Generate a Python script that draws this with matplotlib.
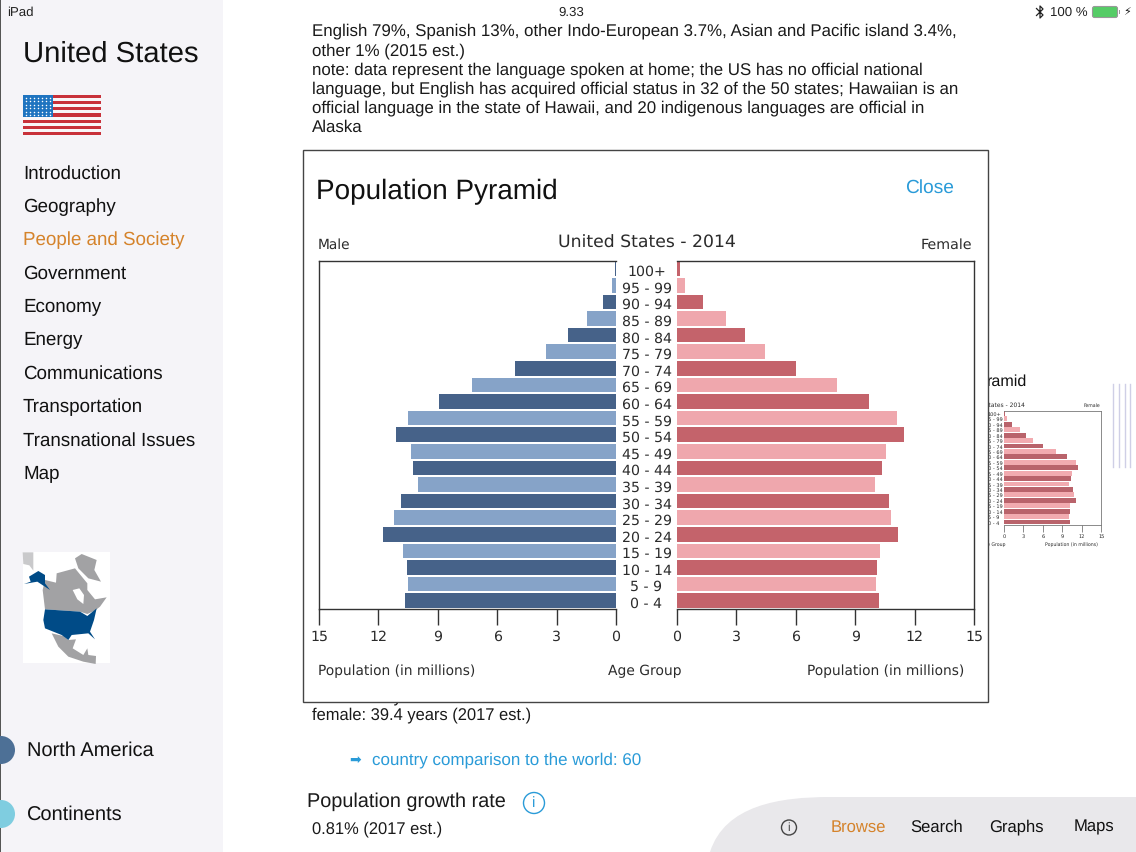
#!/usr/bin/env python3
import matplotlib
matplotlib.use('Agg')
import matplotlib.pyplot as plt
import matplotlib.patches as mpatches
from matplotlib.path import Path
from matplotlib.transforms import blended_transform_factory
import numpy as np

age_groups = ["0 - 4", "5 - 9", "10 - 14", "15 - 19", "20 - 24", "25 - 29", "30 - 34",
              "35 - 39", "40 - 44", "45 - 49", "50 - 54", "55 - 59", "60 - 64", "65 - 69",
              "70 - 74", "75 - 79", "80 - 84", "85 - 89", "90 - 94", "95 - 99", "100+"]
male = [10.64, 10.49, 10.54, 10.77, 11.78, 11.21, 10.87, 9.98, 10.27, 10.37, 11.10,
        10.49, 8.92, 7.29, 5.12, 3.54, 2.42, 1.48, 0.64, 0.19, 0.05]
female = [10.20, 10.03, 10.10, 10.25, 11.16, 10.82, 10.70, 9.98, 10.37, 10.54, 11.48,
          11.09, 9.70, 8.06, 6.00, 4.43, 3.43, 2.46, 1.30, 0.40, 0.13]
x_ticks = [0, 3, 6, 9, 12, 15]

nav_items = ["Introduction", "Geography", "People and Society", "Government", "Economy",
             "Energy", "Communications", "Transportation", "Transnational Issues", "Map"]
body_lines = ["English 79%, Spanish 13%, other Indo-European 3.7%, Asian and Pacific island 3.4%,",
              "other 1% (2015 est.)",
              "note: data represent the language spoken at home; the US has no official national",
              "language, but English has acquired official status in 32 of the 50 states; Hawaiian is an",
              "official language in the state of Hawaii, and 20 indigenous languages are official in",
              "Alaska"]

C_M_DARK = "#466289"
C_M_LIGHT = "#86A3C8"
C_F_DARK = "#C4636B"
C_F_LIGHT = "#EFA7AD"
C_TEXT = "#2B2B2B"
C_ORANGE = "#D5832B"
C_LINK = "#2A9BD8"
UI = "Liberation Sans"
CHART = "DejaVu Sans"
W, H = 1136, 852

plt.rcParams['font.family'] = ['DejaVu Sans']
plt.rcParams['text.hinting'] = 'no_hinting'
fig = plt.figure(figsize=(W / 100, H / 100), dpi=100, facecolor="white")


def px_axes(left, top, right, bottom, **kw):
    return fig.add_axes([left / W, 1 - bottom / H, (right - left) / W, (bottom - top) / H], **kw)


def ui_text(ax, x, y, s, size, color="#111111", ha="left", family=UI):
    ax.text(x, y + 1.5, s, fontsize=size, color=color, ha=ha, va="center", family=family)


def info_icon(ax, x, y, r, color, size):
    ax.add_patch(mpatches.Circle((x, y), r, fc="none", ec=color, lw=1))
    ax.text(x, y + 0.5, "i", fontsize=size, color=color, ha="center", va="center", family=UI)


bg = fig.add_axes([0, 0, 1, 1], zorder=0)
bg.set_xlim(0, W)
bg.set_ylim(H, 0)
bg.axis("off")

# sidebar
bg.add_patch(mpatches.Rectangle((0, 0), 223, H, color="#F5F4F8", lw=0))
bg.add_patch(mpatches.Rectangle((0, 0), 1.2, H, color="#555555", lw=0))
ui_text(bg, 7, 11, "iPad", 9.5, "#222222")
ui_text(bg, 571, 11, "9.33", 9.5, "#222222", ha="center")
# bluetooth sign
bg.plot([1036.5, 1043, 1040, 1040, 1043, 1036.5], [8.5, 15, 18, 6, 9, 15.5], color="#222222", lw=0.9)
ui_text(bg, 1050, 11, "100 %", 9.5, "#222222")
bg.add_patch(mpatches.FancyBboxPatch((1093, 7), 24, 10, boxstyle="round,pad=0.5,rounding_size=2",
                                     fc="#55CC66", ec="#999999", lw=0.8))
bg.add_patch(mpatches.Rectangle((1119, 10), 1.2, 4, color="#999999", lw=0))
ui_text(bg, 1127, 10.5, "\u26A1", 8, "#111111", ha="center", family=CHART)
ui_text(bg, 23, 53, "United States", 21.1, "#111111")

# flag
for i in range(13):
    stripe_top = 95 + i * 40 / 13
    stripe_color = "#C8313A" if i % 2 == 0 else "#F8F6F8"
    bg.add_patch(mpatches.Rectangle((23, stripe_top), 78, 40 / 13, color=stripe_color, lw=0))
bg.add_patch(mpatches.Rectangle((23, 95), 29.5, 21.5, color="#1F74C0", lw=0))
sx, sy = np.meshgrid(np.arange(25.5, 52, 4), np.arange(97.5, 116, 3.6))
bg.scatter(sx.ravel(), sy.ravel(), s=1.2, c="white", lw=0, zorder=3)

for i, item in enumerate(nav_items):
    ui_text(bg, 23, 172.5 + i * 33.3, item, 13.5, C_ORANGE if i == 2 else "#111111")

# small map
bg.add_patch(mpatches.Rectangle((23, 552), 87, 111, color="white", lw=0))


def map_poly(points, color):
    pts = [(p[0] / 3, 540 + p[1] / 3) for p in points]
    bg.add_patch(mpatches.Polygon(pts, closed=True, fc=color, ec="none", zorder=2))


map_poly([(68, 37), (100, 37), (100, 92), (88, 76), (70, 72)], "#C9C9CB")
map_poly([(225, 55), (245, 42), (290, 60), (283, 90), (303, 125), (265, 115), (235, 85)], "#A2A2A4")
map_poly([(135, 120), (168, 128), (170, 100), (225, 85), (262, 130), (262, 150), (285, 178), (320, 172),
          (300, 200), (285, 212), (262, 222), (240, 215), (135, 208), (128, 150)], "#A2A2A4")
map_poly([(218, 150), (238, 145), (252, 165), (250, 192), (232, 178)], "white")
map_poly([(155, 280), (190, 288), (205, 300), (228, 298), (218, 325), (250, 345), (262, 325), (265, 345),
          (288, 348), (287, 372), (250, 365), (205, 350), (175, 320)], "#A2A2A4")
map_poly([(87, 110), (115, 93), (135, 105), (135, 130), (150, 150), (112, 125), (72, 132), (92, 125)], "#004B87")
map_poly([(135, 208), (240, 215), (262, 228), (290, 205), (282, 240), (270, 275), (285, 298), (265, 280),
          (215, 285), (205, 300), (185, 285), (135, 265), (130, 240)], "#004B87")

bg.add_patch(mpatches.Circle((1, 750), 14, color="#4D7096", lw=0))
bg.add_patch(mpatches.Circle((1, 814), 14, color="#7FCDE0", lw=0))
ui_text(bg, 27, 749, "North America", 14.4)
ui_text(bg, 27, 813, "Continents", 14.4)

# page text behind the dialog
for y, line in zip([30, 50, 69, 88, 107, 126], body_lines):
    ui_text(bg, 312, y, line, 12.15, "#1A1A1A")
ui_text(bg, 312, 696, "male: 36.8 years", 11.9, "#1A1A1A")
ui_text(bg, 312, 714, "female: 39.4 years (2017 est.)", 11.9, "#1A1A1A")
ui_text(bg, 349, 758.5, "\u27A1", 10, C_LINK, family=CHART)
ui_text(bg, 372, 758.5, "country comparison to the world: 60", 12.25, C_LINK)
ui_text(bg, 307, 800, "Population growth rate", 14.3, "#1A1A1A")
info_icon(bg, 534, 803, 10.5, C_LINK, 11)
ui_text(bg, 312, 828, "0.81% (2017 est.)", 11.9, "#1A1A1A")
ui_text(bg, 1027, 380, "ramid", 11.6, "#111111", ha="right")

# tab bar
tab_path = Path([(710, 852), (725, 805), (780, 797), (830, 797), (1136, 797), (1136, 852), (710, 852)],
                [Path.MOVETO, Path.CURVE4, Path.CURVE4, Path.CURVE4, Path.LINETO, Path.LINETO, Path.CLOSEPOLY])
bg.add_patch(mpatches.PathPatch(tab_path, fc="#E9E8EB", ec="none"))
info_icon(bg, 789, 827.5, 7.5, "#444444", 8.5)
ui_text(bg, 858, 826, "Browse", 12, C_ORANGE, ha="center")
ui_text(bg, 937, 826, "Search", 12, "#111111", ha="center")
ui_text(bg, 1016, 826, "Graphs", 12, "#111111", ha="center")
ui_text(bg, 1094, 826, "Maps", 12, "#111111", ha="center")
for sx_ in [1113, 1119, 1125, 1130]:
    bg.plot([sx_, sx_], [384, 467], color="#CFCFE6", lw=1)

ypos = np.arange(len(age_groups))


def bar_colors(dark, light):
    return [dark if i % 2 == 0 else light for i in range(len(age_groups))]


def style_axes(ax, hide, tick_size, tick_len, pad, lw, edge="#333333"):
    ax.set_ylim(-0.5, 20.5)
    ax.set_yticks([])
    ax.set_xticks(x_ticks)
    ax.tick_params(axis="x", labelsize=tick_size, length=tick_len, pad=pad, width=lw,
                   color=edge, labelcolor=C_TEXT)
    ax.spines[hide].set_visible(False)
    for name in ["top", "bottom", "left", "right"]:
        ax.spines[name].set_linewidth(lw)
        ax.spines[name].set_color(edge)


# thumbnail of the pyramid on the page behind
thumb = px_axes(1004, 410.7, 1101.3, 524.7, zorder=1)
thumb.barh(ypos, female, height=0.88, color=bar_colors("#B9636B", "#F2ABB0"))
thumb.set_xlim(0, 15)
style_axes(thumb, "left", 3.6, 5, 1.5, 0.6, edge="#777777")
tt = blended_transform_factory(bg.transData, thumb.transData)
for y, label in zip(ypos, age_groups):
    thumb.text(994, y - 0.2, label, transform=tt, fontsize=3.6, ha="center", va="center",
               color=C_TEXT, clip_on=False)
tb = blended_transform_factory(bg.transData, bg.transData)
thumb.text(994, 405, "United States - 2014", transform=tb, fontsize=4.3, ha="center", va="center", color=C_TEXT)
thumb.text(1100, 405.5, "Female", transform=tb, fontsize=3.3, ha="right", va="center", color=C_TEXT)
thumb.text(993, 545, "Age Group", transform=tb, fontsize=3.3, ha="center", va="center", color=C_TEXT)
thumb.text(1098, 545, "Population (in millions)", transform=tb, fontsize=3.3, ha="right", va="center", color=C_TEXT)

# dialog
top = fig.add_axes([0, 0, 1, 1], zorder=2)
top.set_xlim(0, W)
top.set_ylim(H, 0)
top.axis("off")
top.add_patch(mpatches.Rectangle((303, 150), 685, 552, fc="white", ec="#444444", lw=1))
ui_text(top, 316, 190.5, "Population Pyramid", 20.1, "#111111")
ui_text(top, 929, 186.5, "Close", 13.8, C_LINK, ha="center")

ax_m = px_axes(319, 260.5, 616, 609, zorder=3)
ax_m.barh(ypos, male, height=0.88, color=bar_colors(C_M_DARK, C_M_LIGHT))
ax_m.set_xlim(15, 0)
style_axes(ax_m, "right", 10.2, 11.5, 4, 1)

ax_f = px_axes(677, 260.5, 974, 609, zorder=3)
ax_f.barh(ypos, female, height=0.88, color=bar_colors(C_F_DARK, C_F_LIGHT))
ax_f.set_xlim(0, 15)
style_axes(ax_f, "left", 10.2, 11.5, 4, 1)

tr = blended_transform_factory(top.transData, ax_f.transData)
for y, label in zip(ypos, age_groups):
    ax_f.text(646.5, y - 0.2, label, transform=tr, fontsize=10.2, ha="center", va="center",
              color=C_TEXT, clip_on=False)

ui_text(top, 318, 243, "Male", 9.9, C_TEXT, family=CHART)
ui_text(top, 646.5, 242, "United States - 2014", 12.4, C_TEXT, ha="center", family=CHART)
ui_text(top, 972, 243, "Female", 10.3, C_TEXT, ha="right", family=CHART)
ui_text(top, 318, 669.5, "Population (in millions)", 9.9, C_TEXT, family=CHART)
ui_text(top, 644.5, 669.5, "Age Group", 10, C_TEXT, ha="center", family=CHART)
ui_text(top, 964, 669.5, "Population (in millions)", 9.9, C_TEXT, ha="right", family=CHART)

fig.savefig("out.png", dpi=100)
